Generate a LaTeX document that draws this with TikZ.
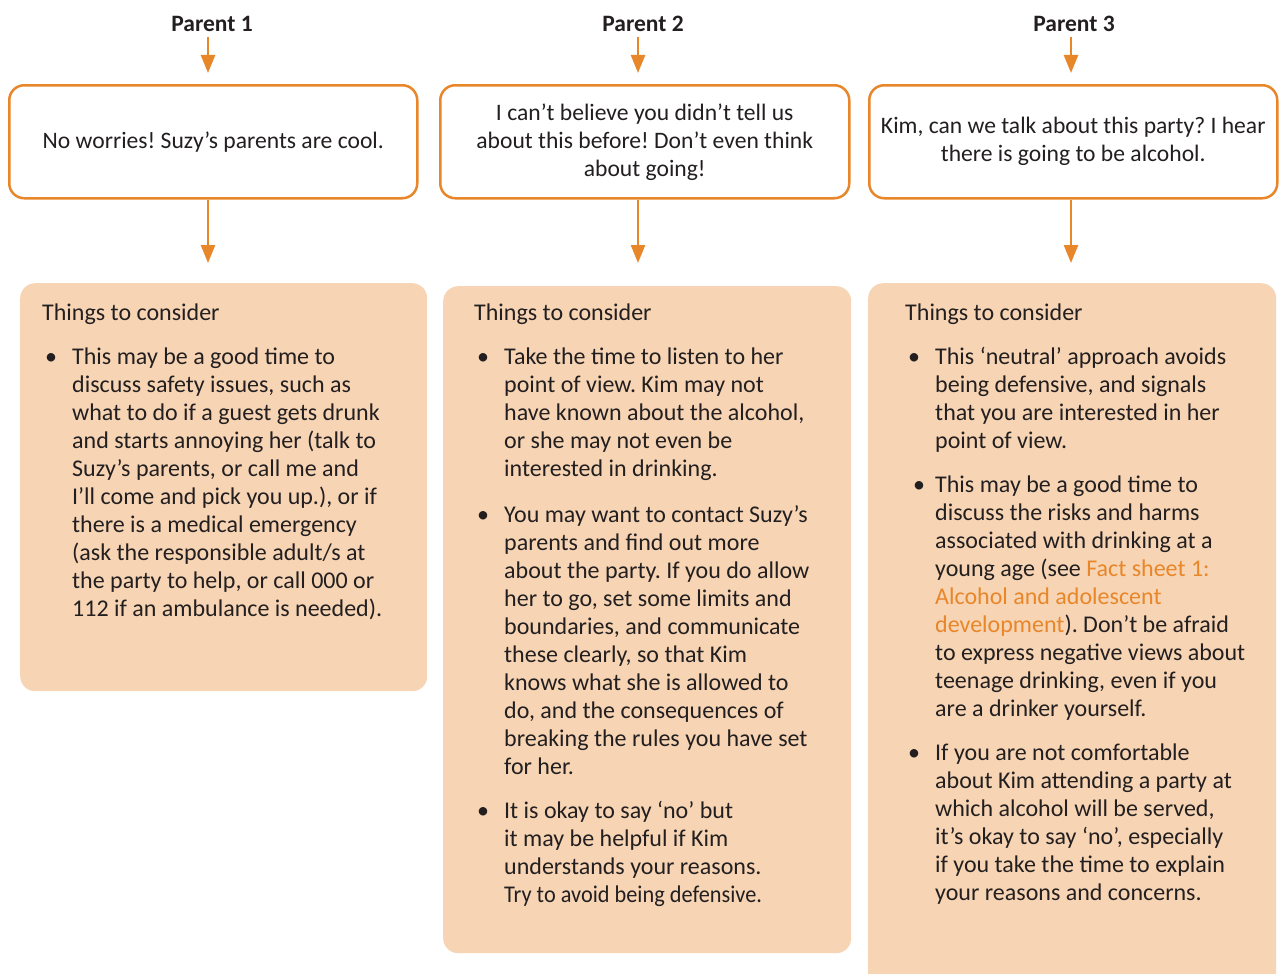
\documentclass[tikz,border=0pt]{standalone}
\usepackage{fontspec}
\usepackage{graphicx}
\setmainfont{Carlito}
\frenchspacing
\usetikzlibrary{arrows.meta, positioning}
\definecolor{pkorange}{RGB}{232,134,42}
\definecolor{pkfill}{RGB}{247,213,180}
\definecolor{pktext}{RGB}{35,31,32}
\begin{document}
\begin{tikzpicture}[x=1pt, y=-1pt,
  every node/.style={font=\fontsize{24}{28}\selectfont, text=pktext},
  parent/.style={font=\fontsize{23.5}{28}\selectfont\bfseries, inner sep=0pt},
  say/.style={rectangle, rounded corners=15pt, draw=pkorange, line width=2.5pt, fill=white, minimum width=408pt, minimum height=113pt, align=center, anchor=north west, font=\fontsize{23.6}{28}\selectfont},
  consider/.style={rectangle, rounded corners=15pt, fill=pkfill, minimum width=408pt, anchor=north west},
  notes/.style={inner sep=0pt, anchor=north west},
  arr/.style={-{Triangle[length=18pt, width=14pt]}, draw=pkorange, line width=2.5pt}
]
\useasboundingbox (0,0) rectangle (1282,974);
% parents
\node[parent] (parent1) at (212,24) {Parent 1};
\node[parent] (parent2) at (643,24) {Parent 2};
\node[parent] (parent3) at (1074,24) {Parent 3};
% what each parent says
\node[say] (say1) at (8,84) {No worries! Suzy’s parents are cool.};
\node[say, minimum width=409pt] (say2) at (439,84) {I can’t believe you didn’t tell us\\about this before! Don’t even think\\about going!};
\node[say] (say3) at (868,84) {Kim, can we talk about this party? I hear\\there is going to be alcohol.};
% things to consider
\node[consider, minimum width=407pt, minimum height=408pt] (consider1) at (20,283) {};
\node[consider, minimum height=667pt] (consider2) at (443,286) {};
\node[consider, minimum height=720pt] (consider3) at (868,283) {};
\node[notes, below right=18pt and 22pt of consider1.north west] (notes1) {%
\begin{tabular}{@{}p{30pt}@{}l@{}}
\multicolumn{2}{@{}l}{Things to consider}\\[16pt]
\hspace{3pt}\textbullet & This may be a good time to\\
 & discuss safety issues, such as\\
 & what to do if a guest gets drunk\\
 & and starts annoying her (talk to\\
 & Suzy’s parents, or call me and\\
 & I’ll come and pick you up.), or if\\
 & there is a medical emergency\\
 & (ask the responsible adult/s at\\
 & the party to help, or call 000 or\\
 & 112 if an ambulance is needed).
\end{tabular}};
\node[notes, below right=15pt and 31pt of consider2.north west] (notes2) {%
\begin{tabular}{@{}p{30pt}@{}l@{}}
\multicolumn{2}{@{}l}{Things to consider}\\[16pt]
\hspace{3pt}\textbullet & Take the time to listen to her\\
 & point of view. Kim may not\\
 & have known about the alcohol,\\
 & or she may not even be\\
 & interested in drinking.\\[18pt]
\hspace{3pt}\textbullet & You may want to contact Suzy’s\\
 & parents and find out more\\
 & about the party. If you do allow\\
 & her to go, set some limits and\\
 & boundaries, and communicate\\
 & these clearly, so that Kim\\
 & knows what she is allowed to\\
 & do, and the consequences of\\
 & breaking the rules you have set\\
 & for her.\\[16pt]
\hspace{3pt}\textbullet & It is okay to say ‘no’ but\\
 & it may be helpful if Kim\\
 & understands your reasons.\\
 & \scalebox{0.93}[1]{Try to avoid being defensive.}
\end{tabular}};
\node[notes, below right=18pt and 37pt of consider3.north west] (notes3) {%
\begin{tabular}{@{}p{30pt}@{}l@{}}
\multicolumn{2}{@{}l}{Things to consider}\\[16pt]
\hspace{3pt}\textbullet & This ‘neutral’ approach avoids\\
 & being defensive, and signals\\
 & that you are interested in her\\
 & point of view.\\[16pt]
\hspace{8pt}\textbullet & This may be a good time to\\
 & discuss the risks and harms\\
 & associated with drinking at a\\
 & young age (see \textcolor{pkorange}{Fact sheet 1:}\\
 & \textcolor{pkorange}{Alcohol and adolescent}\\
 & \textcolor{pkorange}{development}). Don’t be afraid\\
 & to express negative views about\\
 & teenage drinking, even if you\\
 & are a drinker yourself.\\[16pt]
\hspace{3pt}\textbullet & If you are not comfortable\\
 & about Kim attending a party at\\
 & which alcohol will be served,\\
 & it’s okay to say ‘no’, especially\\
 & if you take the time to explain\\
 & your reasons and concerns.
\end{tabular}};
% arrows
\draw[arr, shorten <=5.5pt, shorten >=11pt] ([xshift=-4pt]parent1.south) -- ([xshift=-4pt]parent1.south |- say1.north);
\draw[arr, shorten <=5.5pt, shorten >=11pt] ([xshift=-5pt]parent2.south) -- ([xshift=-5pt]parent2.south |- say2.north);
\draw[arr, shorten <=5.5pt, shorten >=11pt] ([xshift=-3pt]parent3.south) -- ([xshift=-3pt]parent3.south |- say3.north);
\draw[arr, shorten >=20pt] ([xshift=-4pt]parent1.south |- say1.south) -- ([xshift=-4pt]parent1.south |- consider1.north);
\draw[arr, shorten >=23pt] ([xshift=-5pt]parent2.south |- say2.south) -- ([xshift=-5pt]parent2.south |- consider2.north);
\draw[arr, shorten >=20pt] ([xshift=-3pt]parent3.south |- say3.south) -- ([xshift=-3pt]parent3.south |- consider3.north);
\end{tikzpicture}
\end{document}
